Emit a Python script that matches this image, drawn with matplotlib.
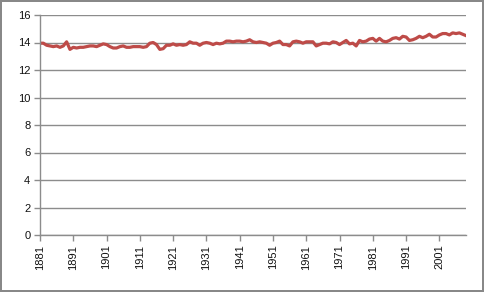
import numpy as np
import matplotlib
matplotlib.use("Agg")
import matplotlib.pyplot as plt

# yearly values
years = list(range(1881, 2010))
temps = [
    13.95, 13.95, 13.80, 13.75, 13.70, 13.75, 13.65, 13.75, 14.05, 13.50,   # 1881-1890
    13.65, 13.60, 13.65, 13.65, 13.70, 13.75, 13.75, 13.70, 13.80, 13.90,   # 1891-1900
    13.85, 13.70, 13.60, 13.60, 13.70, 13.75, 13.65, 13.65, 13.70, 13.70,   # 1901-1910
    13.70, 13.65, 13.70, 13.95, 14.00, 13.85, 13.50, 13.55, 13.80, 13.80,   # 1911-1920
    13.90, 13.80, 13.85, 13.80, 13.85, 14.05, 13.95, 13.95, 13.80, 13.95,   # 1921-1930
    14.00, 13.95, 13.85, 13.95, 13.90, 13.95, 14.10, 14.10, 14.05, 14.10,   # 1931-1940
    14.10, 14.05, 14.10, 14.20, 14.05, 14.00, 14.05, 14.00, 13.95, 13.80,   # 1941-1950
    13.95, 14.00, 14.10, 13.85, 13.85, 13.75, 14.05, 14.10, 14.05, 13.95,   # 1951-1960
    14.05, 14.05, 14.05, 13.75, 13.85, 13.95, 13.95, 13.90, 14.05, 14.00,   # 1961-1970
    13.85, 14.00, 14.15, 13.90, 13.95, 13.75, 14.15, 14.05, 14.10, 14.25,   # 1971-1980
    14.30, 14.10, 14.30, 14.10, 14.05, 14.15, 14.30, 14.35, 14.25, 14.45,   # 1981-1990
    14.40, 14.15, 14.20, 14.30, 14.45, 14.35, 14.45, 14.60, 14.40, 14.40,   # 1991-2000
    14.55, 14.65, 14.65, 14.55, 14.70, 14.65, 14.70, 14.60, 14.50,          # 2001-2009
]
y_ticks = [0, 2, 4, 6, 8, 10, 12, 14, 16]
x_labels = [str(y) for y in range(1881, 2010, 10)]

fig = plt.figure(figsize=(4.84, 2.92), dpi=100)
fig.patch.set_facecolor("white")
fig.patch.set_edgecolor("#888888")
fig.patch.set_linewidth(1.5)

ax = fig.add_axes([40 / 484, 1 - 235 / 292, 426 / 484, 220 / 292])
x = np.arange(len(years))
ax.plot(x, temps, color="#BE4B48", lw=2.3, solid_joinstyle="round")

ax.set_ylim(0, 16)
ax.set_yticks(y_ticks)
ax.set_xlim(0, len(years) - 1)
ax.set_xticks(x[::10])
ax.set_xticklabels(x_labels, rotation=90)

ax.grid(axis="y", color="#8c8c8c", lw=1.0)
ax.set_axisbelow(True)
for side in ["top", "right"]:
    ax.spines[side].set_visible(False)
for side in ["left", "bottom"]:
    ax.spines[side].set_color("#8c8c8c")
    ax.spines[side].set_linewidth(1.0)

ax.tick_params(axis="both", colors="#8c8c8c", length=4, width=1.0, direction="out",
               labelcolor="#111111", labelsize=8, pad=3)
for lab in ax.get_xticklabels() + ax.get_yticklabels():
    lab.set_fontfamily("Liberation Sans")

fig.savefig("out.png", dpi=100)
